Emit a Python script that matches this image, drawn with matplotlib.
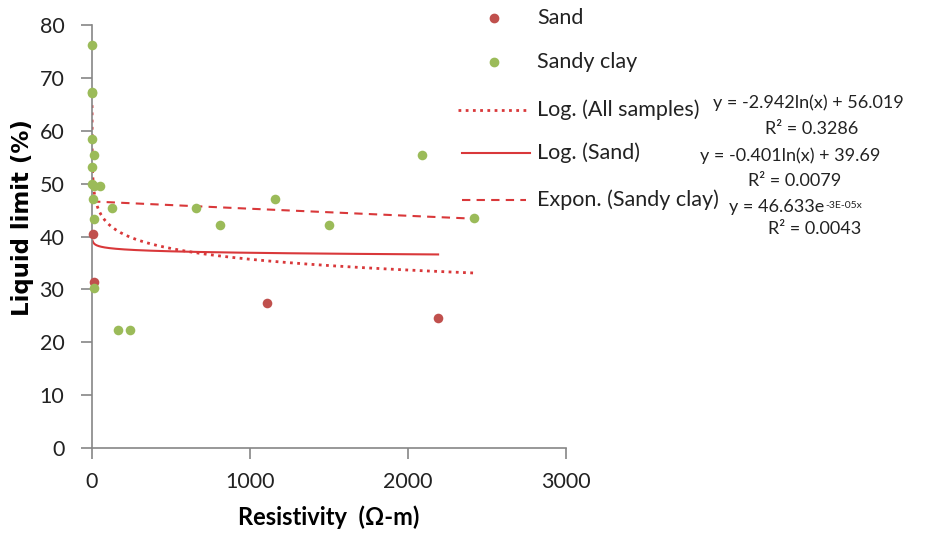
import numpy as np
import matplotlib.pyplot as plt
from matplotlib.lines import Line2D

plt.rcParams['font.family'] = ['Lato', 'DejaVu Sans']

# sand samples
sand_x = [4, 10, 1110, 2190]
sand_y = [40.4, 31.4, 27.4, 24.5]

# sandy clay samples
clay_x = [0.05, 0.5, 1, 1, 15, 2, 0.3, 10, 50, 8, 125, 12, 14, 165, 240,
          660, 810, 1160, 1500, 2090, 2420]
clay_y = [76.3, 67.3, 67.1, 58.5, 55.5, 53.1, 50.0, 49.6, 49.5, 47.1, 45.3,
          43.4, 30.2, 22.3, 22.3, 45.3, 42.2, 47.1, 42.2, 55.5, 43.5]

# trendline coefficients (from the chart labels)
all_a, all_b = -2.942, 56.019
sand_a, sand_b = -0.401, 39.69
clay_c, clay_k = 46.633, -3e-05

sand_col = '#C0504D'
clay_col = '#9BBB59'
trend_col = '#D9383A'
axis_col = '#868686'

fig = plt.figure(figsize=(9.25, 5.38), dpi=100)
ax = fig.add_axes([0.0995, 0.1673, 0.5125, 0.7862])

# trendlines
all_x = np.array(sand_x + clay_x)
xs = np.geomspace(all_x.min(), all_x.max(), 400)
ax.plot(xs, all_a * np.log(xs) + all_b, color=trend_col, lw=2, ls=(0, (1, 1.6)))
xs2 = np.geomspace(min(sand_x), max(sand_x), 400)
ax.plot(xs2, sand_a * np.log(xs2) + sand_b, color=trend_col, lw=1.5)
xs3 = np.linspace(min(clay_x), max(clay_x), 400)
ax.plot(xs3, clay_c * np.exp(clay_k * xs3), color=trend_col, lw=1.5, ls=(0, (4, 3)))

# points
ax.scatter(sand_x, sand_y, s=48, color=sand_col, zorder=3, clip_on=False, lw=0)
ax.scatter(clay_x, clay_y, s=48, color=clay_col, zorder=3, clip_on=False, lw=0)

ax.set_xlim(0, 3000)
ax.set_ylim(0, 80)
ax.set_xticks([0, 1000, 2000, 3000])
ax.set_yticks(range(0, 90, 10))
for s in ['top', 'right']:
    ax.spines[s].set_visible(False)
for s in ['left', 'bottom']:
    ax.spines[s].set_color(axis_col)
    ax.spines[s].set_linewidth(1.2)
ax.tick_params(colors=axis_col, length=8, width=1.2, labelsize=15.5,
               labelcolor='#222222')
ax.tick_params(axis='y', pad=12)
ax.tick_params(axis='x', pad=9)
ax.set_xlabel('Resistivity  (\u03a9-m)', fontsize=17, fontweight='bold', labelpad=10)
ax.set_ylabel('Liquid limit (%)', fontsize=16.5, fontweight='bold',
              family='DejaVu Sans')
ax.yaxis.set_label_coords(-0.122, 0.544)

# legend, drawn by hand in pixel positions
W, H = 925, 538
def fx(px):
    return px / W
def fy(py):
    return 1 - py / H

fig.add_artist(Line2D([fx(494)], [fy(18)], marker='o', ms=6, color=sand_col, ls='none'))
fig.add_artist(Line2D([fx(494)], [fy(62)], marker='o', ms=6, color=clay_col, ls='none'))
fig.add_artist(Line2D([fx(458), fx(530)], [fy(110), fy(110)], color=trend_col, lw=2, ls=(0, (1, 1.6))))
fig.add_artist(Line2D([fx(462), fx(530)], [fy(153), fy(153)], color=trend_col, lw=1.5))
fig.add_artist(Line2D([fx(462), fx(526)], [fy(200), fy(200)], color=trend_col, lw=1.5, ls=(0, (4, 3))))

leg_labels = ['Sand', 'Sandy clay', 'Log. (All samples)', 'Log. (Sand)', 'Expon. (Sandy clay)']
leg_y = [18, 62, 110, 153, 200]
for lab, py in zip(leg_labels, leg_y):
    fig.text(fx(537), fy(py), lab, fontsize=15.5, va='center', ha='left', color='#222222')

# trendline equations
eq_texts = ['y = -2.942ln(x) + 56.019', 'R\u00b2 = 0.3286',
            'y = -0.401ln(x) + 39.69', 'R\u00b2 = 0.0079', 'R\u00b2 = 0.0043']
eq_pos = [(808, 103), (812, 129), (790, 156), (795, 181), (815, 229)]
for t, (px, py) in zip(eq_texts, eq_pos):
    fig.text(fx(px), fy(py), t, fontsize=13, va='center', ha='center', color='#222222')

# exponential equation with a small superscript
base = fig.text(fx(729), fy(207), 'y = 46.633e', fontsize=13, va='center',
                ha='left', color='#222222')
ax.annotate('-3E-05x', xy=(1.0, 0.85), xycoords=base, xytext=(1, 0),
            textcoords='offset points', fontsize=7.5, color='#222222',
            ha='left', va='top', annotation_clip=False)

plt.savefig('out.png', dpi=100)
